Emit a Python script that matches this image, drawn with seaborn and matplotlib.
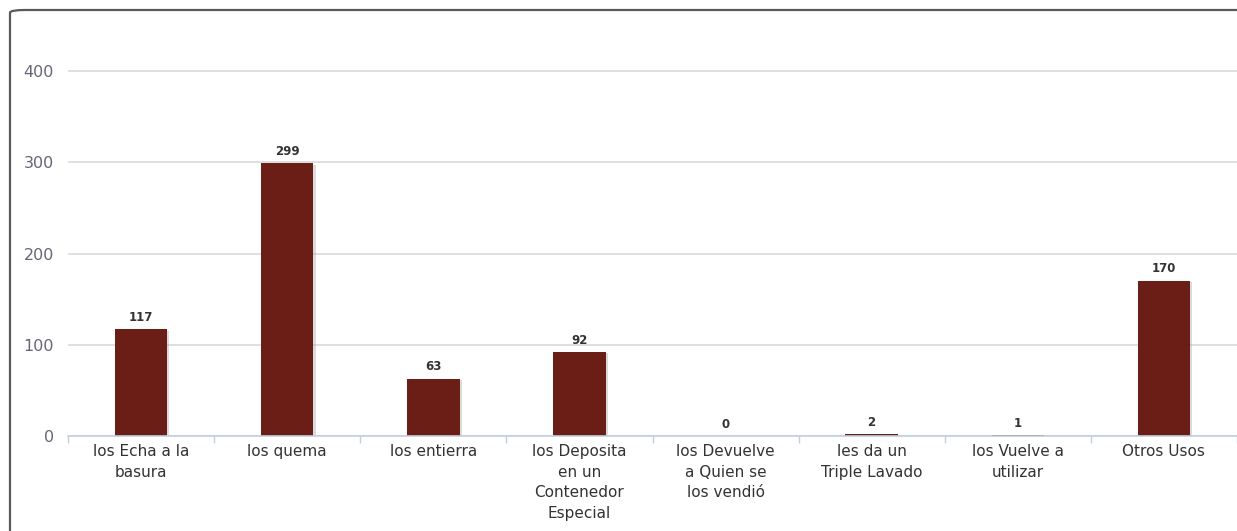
import matplotlib
matplotlib.use("Agg")
import matplotlib.pyplot as plt
import matplotlib.patheffects as pe
from matplotlib.patches import FancyBboxPatch
import numpy as np
import pandas as pd
import seaborn as sns

# data
categories = ["los Echa a la basura", "los quema", "los entierra",
              "los Deposita en un Contenedor Especial",
              "los Devuelve a Quien se los vendió", "les da un Triple Lavado",
              "los Vuelve a utilizar", "Otros Usos"]
tick_labels = ["los Echa a la\nbasura", "los quema", "los entierra",
               "los Deposita\nen un\nContenedor\nEspecial",
               "los Devuelve\na Quien se\nlos vendió", "les da un\nTriple Lavado",
               "los Vuelve a\nutilizar", "Otros Usos"]
values = [117, 299, 63, 92, 0, 2, 1, 170]
y_ticks = [0, 100, 200, 300, 400]

df = pd.DataFrame({"categoria": categories, "cantidad": values})

sns.set_theme(style="white")
plt.rcParams["font.family"] = ["DejaVu Sans"]

fig = plt.figure(figsize=(12.37, 5.31), dpi=100)
ax = fig.add_axes([68 / 1237, 1 - 436 / 531, 1 - 68 / 1237, (436 - 71) / 531 * 1.01])

# outer rounded frame (cut by the right and bottom edges)
frame = FancyBboxPatch((10 / 1237, -0.5), 2.0, 1 - 10 / 531 + 0.5,
                       boxstyle="round,pad=0,rounding_size=0.012",
                       transform=fig.transFigure, facecolor="none",
                       edgecolor="#5a5a5a", linewidth=1.6, zorder=10,
                       mutation_aspect=531 / 1237)
fig.patches.append(frame)

sns.barplot(data=df, x="categoria", y="cantidad", color="#6a1e16",
            saturation=1, width=0.36, ax=ax, zorder=3)

for bar in ax.patches:
    bar.set_path_effects([pe.SimplePatchShadow(offset=(1.5, -1), shadow_rgbFace="#999999", alpha=0.35),
                          pe.Normal()])
    bar.set_edgecolor("none")

for i, v in enumerate(values):
    ax.text(i, v + 6, str(v), ha="center", va="bottom", fontsize=8.5,
            fontweight="bold", color="#333333", zorder=4)

ax.set_ylim(0, 404)
ax.set_xlim(-0.5, len(values) - 0.5)
ax.set_yticks(y_ticks)
ax.set_yticklabels([str(t) for t in y_ticks], color="#666677", fontsize=11.5)
ax.yaxis.grid(True, color="#d9d9d9", linewidth=1.2, zorder=0)
ax.tick_params(axis="y", length=0, pad=10)

ax.set_xticks(range(len(values)))
ax.set_xticklabels(tick_labels, fontsize=11, color="#333333", linespacing=1.45)
ax.set_xticks(np.arange(-0.5, len(values)), minor=True)
ax.tick_params(axis="x", which="major", length=0, pad=6)
ax.tick_params(axis="x", which="minor", length=5, color="#c0d0e0", width=1, direction="out")
ax.tick_params(axis="x", which="both", bottom=True)

ax.set_xlabel("")
ax.set_ylabel("")
for side in ["top", "right", "left"]:
    ax.spines[side].set_visible(False)
ax.spines["bottom"].set_color("#c0d0e0")
ax.spines["bottom"].set_linewidth(1.2)
ax.spines["bottom"].set_zorder(5)

fig.savefig("out.png", dpi=100, facecolor="white")
